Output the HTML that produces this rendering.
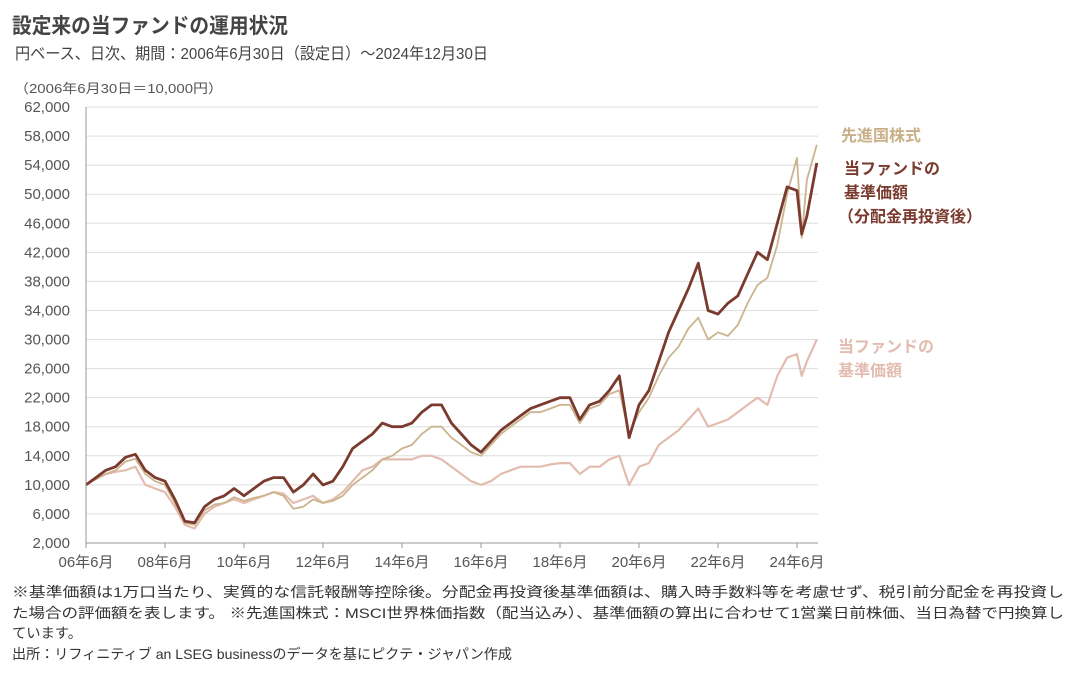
<!DOCTYPE html>
<html><head><meta charset="utf-8"><style>
html,body{margin:0;padding:0;background:#fff;}
svg{display:block;font-family:"Liberation Sans","Noto Sans CJK JP",sans-serif;}
</style></head><body>
<svg id="chart" width="1077" height="680" viewBox="0 0 1077 680">
<text x="12" y="33" font-size="21" font-weight="bold" fill="#444" textLength="276" lengthAdjust="spacingAndGlyphs">設定来の当ファンドの運用状況</text>
<text x="15" y="59" font-size="16" fill="#444" textLength="473" lengthAdjust="spacingAndGlyphs">円ベース、日次、期間：2006年6月30日（設定日）～2024年12月30日</text>
<text x="14" y="93" font-size="13" fill="#555" textLength="209" lengthAdjust="spacingAndGlyphs">（2006年6月30日＝10,000円）</text>
<g id="grid"></g>
<g id="yticks"></g>
<g id="xticks"></g>
<g id="series"></g>
<line x1="86" y1="107" x2="86" y2="543" stroke="#999" stroke-width="1"/>
<line x1="86" y1="543" x2="818" y2="543" stroke="#999" stroke-width="1"/>
<g>
<text x="841" y="141" font-size="16" font-weight="bold" fill="#c9b089">先進国株式</text>
<g fill="#7a3a2e" font-size="16" font-weight="bold">
<text x="844" y="174">当ファンドの</text>
<text x="844" y="198">基準価額</text>
<text x="838" y="222">（分配金再投資後）</text>
</g>
<g fill="#e3bcb0" font-size="16" font-weight="bold">
<text x="838" y="352">当ファンドの</text>
<text x="838" y="376">基準価額</text>
</g>
</g>
<g fill="#333" font-size="14">
<text x="12" y="597" textLength="1052" lengthAdjust="spacingAndGlyphs">※基準価額は1万口当たり、実質的な信託報酬等控除後。分配金再投資後基準価額は、購入時手数料等を考慮せず、税引前分配金を再投資し</text>
<text x="12" y="618" textLength="1052" lengthAdjust="spacingAndGlyphs">た場合の評価額を表します。 ※先進国株式：MSCI世界株価指数（配当込み）、基準価額の算出に合わせて1営業日前株価、当日為替で円換算し</text>
<text x="12" y="638" textLength="70" lengthAdjust="spacingAndGlyphs">ています。</text>
<text x="12" y="659" textLength="500" lengthAdjust="spacingAndGlyphs">出所：リフィニティブ an LSEG businessのデータを基にピクテ・ジャパン作成</text>
</g>
</svg>
<script>
const yTicks = [2000,6000,10000,14000,18000,22000,26000,30000,34000,38000,42000,46000,50000,54000,58000,62000];
const xTickYears = [2006.5,2008.5,2010.5,2012.5,2014.5,2016.5,2018.5,2020.5,2022.5,2024.5];
const xTickLabels = ["06年6月","08年6月","10年6月","12年6月","14年6月","16年6月","18年6月","20年6月","22年6月","24年6月"];
const dates = [2006.5,2006.75,2007,2007.25,2007.5,2007.75,2008,2008.25,2008.5,2008.75,2009,2009.25,2009.5,2009.75,2010,2010.25,2010.5,2010.75,2011,2011.25,2011.5,2011.75,2012,2012.25,2012.5,2012.75,2013,2013.25,2013.5,2013.75,2014,2014.25,2014.5,2014.75,2015,2015.25,2015.5,2015.75,2016,2016.25,2016.5,2016.75,2017,2017.25,2017.5,2017.75,2018,2018.25,2018.5,2018.75,2019,2019.25,2019.5,2019.75,2020,2020.25,2020.5,2020.75,2021,2021.25,2021.5,2021.75,2022,2022.25,2022.5,2022.75,2023,2023.25,2023.5,2023.75,2024,2024.25,2024.5,2024.62,2024.75,2025];
const fundReinvested = [10000,11000,12000,12500,13800,14200,12000,11000,10500,8000,5000,4800,7000,8000,8500,9500,8500,9500,10500,11000,11000,9000,10000,11500,10000,10500,12500,15000,16000,17000,18500,18000,18000,18500,20000,21000,21000,18500,17000,15500,14500,16000,17500,18500,19500,20500,21000,21500,22000,22000,19000,21000,21500,23000,25000,16500,21000,23000,27000,31000,34000,37000,40500,34000,33500,35000,36000,39000,42000,41000,46000,51000,50500,44500,47000,54300];
const worldStocks = [10000,10800,11500,12000,13200,13600,11500,10500,10000,7500,4800,4500,6500,7300,7500,8300,7800,8200,8500,9000,8500,6700,7000,8000,7500,7800,8500,10000,11000,12000,13500,14000,15000,15500,17000,18000,18000,16500,15500,14500,14000,15500,17000,18000,19000,20000,20000,20500,21000,21000,18500,20500,21000,22500,23000,17000,20000,22000,25000,27500,29000,31500,33000,30000,31000,30500,32000,35000,37500,38500,43000,50000,55000,44000,52000,56800];
const fundNav = [10000,10800,11500,11800,12000,12500,10000,9500,9000,7000,4500,4000,6000,7000,7500,8000,7500,8000,8500,9000,8800,7500,8000,8500,7500,8000,9000,10500,12000,12500,13500,13500,13500,13500,14000,14000,13500,12500,11500,10500,10000,10500,11500,12000,12500,12500,12500,12800,13000,13000,11500,12500,12500,13500,14000,10000,12500,13000,15500,16500,17500,19000,20500,18000,18500,19000,20000,21000,22000,21000,25000,27500,28000,25000,27000,30000];

const svgNS = "http://www.w3.org/2000/svg";
const X0=86, X1=818, Y0=543, Y1=107;
function xScale(t){ return X0 + (t-2006.5)*39.5; }
function yScale(v){ return Y0 - (v-2000)/(62000-2000)*(Y0-Y1); }
const grid=document.getElementById('grid'), yt=document.getElementById('yticks'), xt=document.getElementById('xticks'), ser=document.getElementById('series');
yTicks.forEach(v=>{
  const y=yScale(v);
  if(v>2000){
    const l=document.createElementNS(svgNS,'line');
    l.setAttribute('x1',X0);l.setAttribute('x2',X1);l.setAttribute('y1',y);l.setAttribute('y2',y);
    l.setAttribute('stroke','#ddd');l.setAttribute('stroke-width','1');
    
    
    grid.appendChild(l);
  }
  const t=document.createElementNS(svgNS,'text');
  t.setAttribute('x',70);t.setAttribute('y',y+5);t.setAttribute('text-anchor','end');
  t.setAttribute('font-size','15');t.setAttribute('fill','#555');
  t.textContent=v.toLocaleString('en-US');
  
  
  yt.appendChild(t);
});
xTickYears.forEach((yr,i)=>{
  const x=xScale(yr);
  const l=document.createElementNS(svgNS,'line');
  l.setAttribute('x1',x);l.setAttribute('x2',x);l.setAttribute('y1',Y0);l.setAttribute('y2',Y0+5);
  l.setAttribute('stroke','#999');
  
  
  xt.appendChild(l);
  const t=document.createElementNS(svgNS,'text');
  t.setAttribute('x',x);t.setAttribute('y',Y0+24);t.setAttribute('text-anchor','middle');
  t.setAttribute('font-size','15');t.setAttribute('fill','#555');
  t.textContent=xTickLabels[i];
  
  
  xt.appendChild(t);
});
function drawLine(vals,color,w,name){
  const p=document.createElementNS(svgNS,'path');
  p.setAttribute('d',vals.map((v,i)=>(i?'L':'M')+xScale(dates[i]).toFixed(1)+','+yScale(v).toFixed(1)).join(''));
  p.setAttribute('fill','none');p.setAttribute('stroke',color);p.setAttribute('stroke-width',w);
  p.setAttribute('stroke-linejoin','round');
  
  
  ser.appendChild(p);
}
drawLine(fundNav,'#e3bcb0',2.2,'line-fund-nav');
drawLine(worldStocks,'#cbb48e',1.8,'line-world-stocks');
drawLine(fundReinvested,'#7a3a2e',2.8,'line-fund-reinvested');
</script>
</body></html>
